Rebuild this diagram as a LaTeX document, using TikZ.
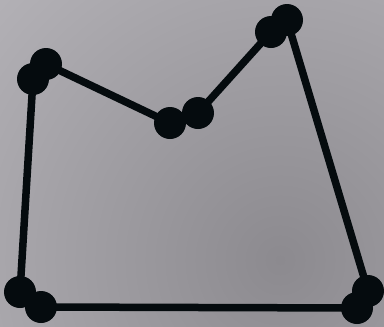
\documentclass[tikz,border=0pt]{standalone}
\definecolor{bgA}{HTML}{B4B2B7}
\definecolor{bgB}{HTML}{8C8A8F}
\definecolor{ink}{HTML}{050B0E}
\pgfdeclarelayer{bg}
\pgfsetlayers{bg,main}
\begin{document}
\begin{tikzpicture}[x=1pt,y=-1pt,
  dot/.style={circle,fill=ink,draw=none,minimum size=32pt,inner sep=0pt},
  edge/.style={draw=ink,line width=7.5pt}]
\useasboundingbox (0,0) rectangle (384,327);
\node[dot] (a1) at (33,79) {};
\node[dot] (a2) at (46,64) {};
\node[dot] (b1) at (170,123) {};
\node[dot] (b2) at (198,113) {};
\node[dot] (c1) at (271,32) {};
\node[dot] (c2) at (287,20) {};
\node[dot] (d1) at (368,291) {};
\node[dot] (d2) at (357,308) {};
\node[dot] (e1) at (41,307) {};
\node[dot] (e2) at (20,292) {};
\begin{pgfonlayer}{bg}
\fill[bgA] (0,0) rectangle (384,327);
\begin{scope}
\clip (0,0) rectangle (384,327);
\shade[inner color=bgB,outer color=bgA] (280,260) circle (400);
\end{scope}
\draw[edge] (a2.center) -- (b1.center);
\draw[edge] (b2.center) -- (c1.center);
\draw[edge] (c2.center) -- (d1.center);
\draw[edge] (d2.center) -- (e1.center);
\draw[edge] (e2.center) -- (a1.center);
\end{pgfonlayer}
\end{tikzpicture}
\end{document}
